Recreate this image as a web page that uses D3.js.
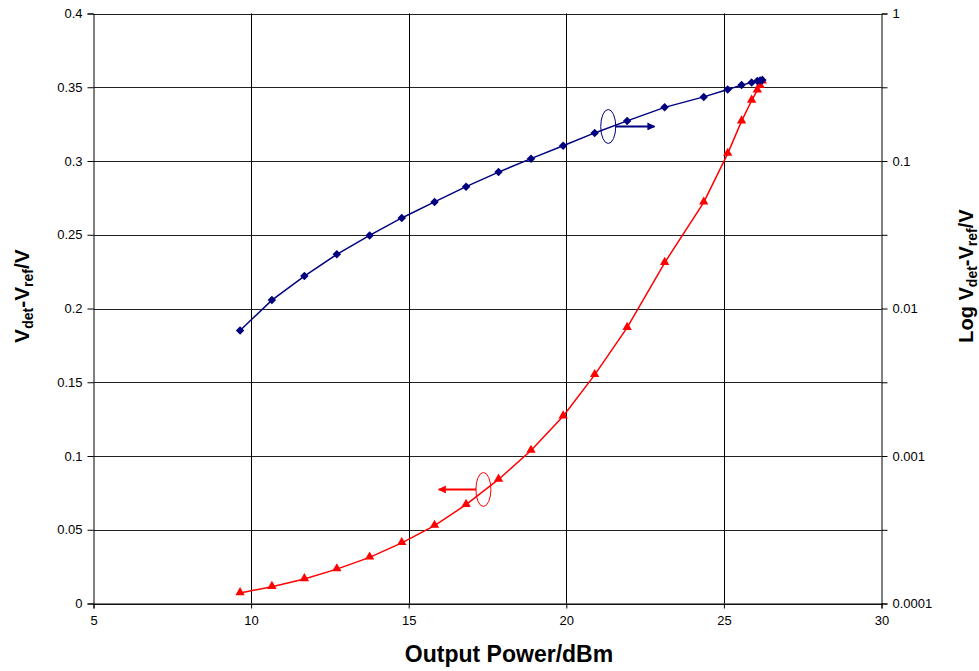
<!DOCTYPE html>
<html>
<head>
<meta charset="utf-8">
<script src="https://cdn.jsdelivr.net/npm/d3@7"></script>
<style>
  body { margin: 0; background: #fff; }
  text { font-family: "Liberation Sans", Arial, sans-serif; }
</style>
</head>
<body>
<script>
// data
var power = [9.65, 10.66, 11.69, 12.72, 13.76, 14.78, 15.82, 16.82, 17.85, 18.88,
  19.9, 20.9, 21.93, 23.12, 24.36, 25.12, 25.56, 25.88, 26.06, 26.15, 26.22];
var vdet = [0.0071, 0.0114, 0.0166, 0.0233, 0.0313, 0.0411, 0.0528, 0.067, 0.0841, 0.1037,
  0.127, 0.155, 0.187, 0.231, 0.272, 0.305, 0.327, 0.341, 0.348, 0.351, 0.354];

var xTicks = [5, 10, 15, 20, 25, 30];
var yTicks = [0, 0.05, 0.1, 0.15, 0.2, 0.25, 0.3, 0.35, 0.4];
var yLabels = ["0", "0.05", "0.1", "0.15", "0.2", "0.25", "0.3", "0.35", "0.4"];
var logTicks = [0.0001, 0.000316, 0.001, 0.00316, 0.01, 0.0316, 0.1, 0.316, 1];
var logLabels = ["0.0001", "", "0.001", "", "0.01", "", "0.1", "", "1"];

var data = power.map(function (p, i) {
  return { x: p, v: vdet[i] };
});

//Width and height
var w = 979;
var h = 671;
var pLeft = 93.5, pRight = 881.5, pTop = 13.5, pBottom = 603.5;

var xScale = d3.scaleLinear().domain([5, 30]).range([pLeft, pRight]);
var yScale = d3.scaleLinear().domain([0, 0.4]).range([pBottom, pTop]);
var yLog = d3.scaleLog().domain([0.0001, 1]).range([pBottom, pTop]);

var svg = d3.select("body").append("svg").attr("width", w).attr("height", h);

//Grid lines
svg.append("g")
  .selectAll("line")
  .data(yTicks)
  .enter()
  .append("line")
  .attr("x1", pLeft)
  .attr("x2", pRight)
  .attr("y1", function (d) { return Math.round(yScale(d)) + 0.5; })
  .attr("y2", function (d) { return Math.round(yScale(d)) + 0.5; })
  .attr("stroke", "#222");

svg.append("g")
  .selectAll("line")
  .data(xTicks.slice(1, -1))
  .enter()
  .append("line")
  .attr("x1", function (d) { return Math.round(xScale(d)) + 0.5; })
  .attr("x2", function (d) { return Math.round(xScale(d)) + 0.5; })
  .attr("y1", pTop)
  .attr("y2", pBottom)
  .attr("stroke", "#000");

//Axes
var xAxis = d3.axisBottom(xScale).tickValues(xTicks).tickSize(5).tickFormat(d3.format("d"));
var yAxis = d3.axisLeft(yScale).tickValues(yTicks).tickSize(6)
  .tickFormat(function (d, i) { return yLabels[i]; });
var rAxis = d3.axisRight(yLog).tickValues(logTicks).tickSize(6)
  .tickFormat(function (d, i) { return logLabels[i]; });

function styleAxis(g) {
  g.selectAll("path, line").attr("stroke", "#000");
  g.selectAll("text").attr("font-size", "13px").attr("fill", "#000")
    .attr("font-family", "Liberation Sans, Arial, sans-serif");
}

svg.append("g").attr("transform", "translate(0," + pBottom + ")").call(xAxis).call(styleAxis)
  .selectAll("text").attr("dy", "1.05em");
svg.append("g").attr("transform", "translate(" + pLeft + ",0)").call(yAxis).call(styleAxis)
  .selectAll("text").attr("x", -11);
svg.append("g").attr("transform", "translate(" + pRight + ",0)").call(rAxis).call(styleAxis)
  .selectAll("text").attr("x", 11);

//Lines
var redLine = d3.line()
  .x(function (d) { return xScale(d.x); })
  .y(function (d) { return yScale(d.v); });
var blueLine = d3.line()
  .x(function (d) { return xScale(d.x); })
  .y(function (d) { return yLog(d.v); });

svg.append("path").datum(data).attr("d", redLine)
  .attr("fill", "none").attr("stroke", "#ff0000").attr("stroke-width", 1.5);
svg.append("path").datum(data).attr("d", blueLine)
  .attr("fill", "none").attr("stroke", "#000080").attr("stroke-width", 1.5);

//Markers
svg.append("g")
  .selectAll("path")
  .data(data)
  .enter()
  .append("path")
  .attr("d", d3.symbol().type(d3.symbolTriangle).size(38))
  .attr("transform", function (d) {
    return "translate(" + xScale(d.x) + "," + (yScale(d.v) - 0.5) + ")";
  })
  .attr("fill", "#ff0000");

svg.append("g")
  .selectAll("path")
  .data(data)
  .enter()
  .append("path")
  .attr("d", d3.symbol().type(d3.symbolSquare).size(36))
  .attr("transform", function (d) {
    return "translate(" + xScale(d.x) + "," + yLog(d.v) + ") rotate(45)";
  })
  .attr("fill", "#000080");

//Arrow markers
var defs = svg.append("defs");
[["arrBlue", "#000080"], ["arrRed", "#ff0000"]].forEach(function (a) {
  defs.append("marker")
    .attr("id", a[0])
    .attr("viewBox", "0 0 10 10")
    .attr("refX", 9)
    .attr("refY", 5)
    .attr("markerWidth", 4)
    .attr("markerHeight", 4)
    .attr("orient", "auto")
    .append("path")
    .attr("d", "M0,0L10,5L0,10Z")
    .attr("fill", a[1]);
});

//Annotations: ellipse + arrow pointing at the axis each curve uses
var notes = [
  { x: 21.33, v: 0.3234, to: 22.8, color: "#000080", marker: "arrBlue" },
  { x: 17.37, v: 0.0773, to: 15.95, color: "#ff0000", marker: "arrRed" }
];

notes.forEach(function (n) {
  svg.append("ellipse")
    .attr("cx", xScale(n.x))
    .attr("cy", yScale(n.v))
    .attr("rx", 7.5)
    .attr("ry", 17)
    .attr("fill", "none")
    .attr("stroke", n.color)
    .attr("stroke-width", 1);
  svg.append("line")
    .attr("x1", xScale(n.x) + (n.to > n.x ? 7 : -7))
    .attr("x2", xScale(n.to))
    .attr("y1", yScale(n.v))
    .attr("y2", yScale(n.v))
    .attr("stroke", n.color)
    .attr("stroke-width", 2)
    .attr("marker-end", "url(#" + n.marker + ")");
});

//Axis titles
svg.append("text")
  .attr("x", 509)
  .attr("y", 662)
  .attr("text-anchor", "middle")
  .attr("font-size", "23px")
  .attr("font-weight", "bold")
  .text("Output Power/dBm");

function vTitle(sel, prefix) {
  if (prefix) sel.append("tspan").text(prefix);
  sel.append("tspan").text("V");
  sel.append("tspan").attr("font-size", "14px").attr("dy", 4).text("det");
  sel.append("tspan").attr("dy", -4).text("-V");
  sel.append("tspan").attr("font-size", "14px").attr("dy", 4).text("ref");
  sel.append("tspan").attr("dy", -4).text("/V");
}

svg.append("text")
  .attr("transform", "translate(29,296) rotate(-90)")
  .attr("text-anchor", "middle")
  .attr("font-size", "21px")
  .attr("font-weight", "bold")
  .call(vTitle, "");

svg.append("text")
  .attr("transform", "translate(973,276) rotate(-90)")
  .attr("text-anchor", "middle")
  .attr("font-size", "20px")
  .attr("font-weight", "bold")
  .call(vTitle, "Log ");
</script>
</body>
</html>
